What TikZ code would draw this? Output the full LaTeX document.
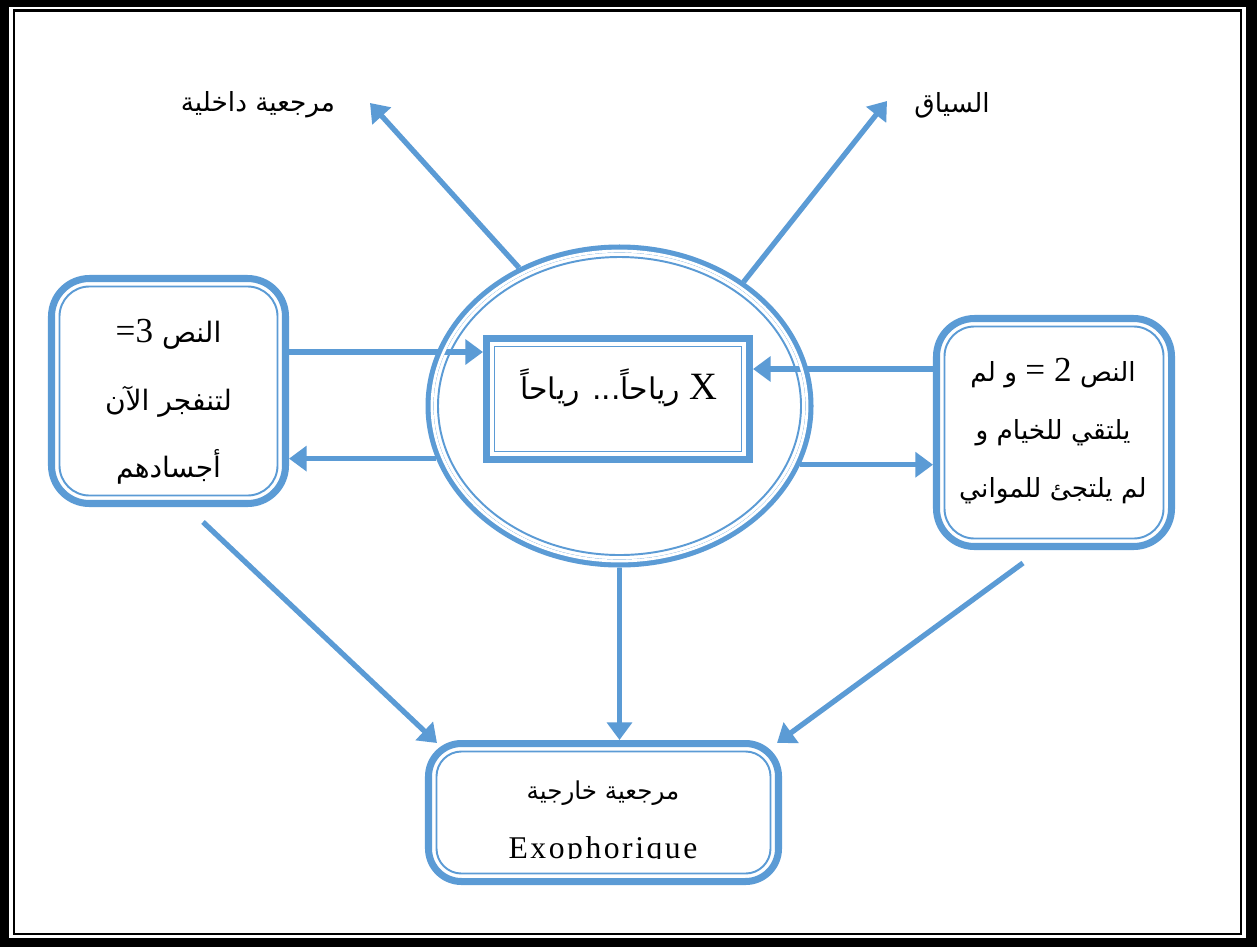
\documentclass[tikz,border=0pt]{standalone}
\usepackage{fontspec}
\setmainfont{Liberation Serif}
\newfontfamily\arabicfont[Script=Arabic]{DejaVu Sans}
\TeXXeTstate=1
\usetikzlibrary{arrows.meta,fit,shapes.geometric}
\definecolor{accentblue}{HTML}{5B9BD5}

\tikzset{
  heavy/.style={draw=accentblue, line width=4pt},
  fine/.style={draw=accentblue, line width=1.1pt},
  gapline/.style={draw=white, line width=1.6pt},
  arr/.style={draw=accentblue, line width=3pt, -{Triangle[length=10pt,width=14pt]}},
  artext/.style={font=\arabicfont\fontsize{15}{18}\selectfont, inner sep=0pt},
  boxtext/.style={align=center, inner sep=0pt},
}

\begin{document}
\begin{tikzpicture}[x=0.02cm,y=-0.02cm]
% page frame: heavy black band with a thin rule inside
\fill[black] (0,0) rectangle (1257,947);
\fill[white] (9.3,7.3) rectangle (1245.7,938.3);
\draw[line width=1.2pt] (14,10.5) rectangle (1241,934.3);

% left text box
\node[heavy, rounded corners=0.76cm, fit={(51.5,278.5) (285.5,503.5)}, inner sep=0pt] (lbox) {};
\draw[fine, rounded corners=0.6cm] ([shift={(11.5,11.5)}]lbox.north west) rectangle ([shift={(-11.5,-11.5)}]lbox.south east);

% right text box
\node[heavy, rounded corners=0.76cm, fit={(936.5,318.5) (1171.5,546.5)}, inner sep=0pt] (rbox) {};
\draw[fine, rounded corners=0.6cm] ([shift={(11.5,11.5)}]rbox.north west) rectangle ([shift={(-11.5,-11.5)}]rbox.south east);

% bottom box
\node[heavy, rounded corners=0.66cm, fit={(428.5,743.5) (778.5,881.5)}, inner sep=0pt] (bbox) {};
\draw[fine, rounded corners=0.5cm] ([shift={(11.5,11.5)}]bbox.north west) rectangle ([shift={(-11.5,-11.5)}]bbox.south east);

% central ellipse and the framed word inside it
\node[heavy, line width=4.6pt, ellipse, minimum width=7.6cm, minimum height=6.3cm, inner sep=0pt] (ell) at (619.5,406) {};
\node[heavy, fit={(486.5,338.5) (749.5,459.5)}, inner sep=0pt] (rect) {};
\draw[fine] ([shift={(11.5,11.5)}]rect.north west) rectangle ([shift={(-11.5,-11.5)}]rect.south east);

% levels of the horizontal connectors
\coordinate (h1) at (0,352);
\coordinate (h3) at (0,369);
% free ends of the other connectors
\coordinate (tipL) at (370,103);
\coordinate (tipR) at (887,101);
\coordinate (s8) at (203,522);
\coordinate (t8) at (437,743);
\coordinate (s9) at (1023,563);
\coordinate (t9) at (777,743);

\draw[arr] (lbox.east |- h1) -- (rect.west |- h1);
\draw[arr] (ell.196) -- (ell.196 -| lbox.east);
\draw[arr] (rbox.west |- h3) -- (rect.east |- h3);
\draw[arr] (ell.342) -- (ell.342 -| rbox.west);
\draw[arr] (ell.south) -- (ell.south |- bbox.north);
\draw[arr] (ell.126) -- (tipL);
\draw[arr] (ell.45) -- (tipR);
\draw[arr] (s8) -- (t8);
\draw[arr] (s9) -- (t9);

% inner ring of the ellipse, laid over the crossing connectors
\draw[gapline] (ell.center) ellipse [x radius=187.5, y radius=155];
\draw[fine] (ell.center) ellipse [x radius=181.5, y radius=149];

% labels
\node[artext] (lblL) at (258,105) {\beginR مرجعية داخلية\endR};
\node[artext] (lblR) at (952,105) {\beginR السياق\endR};

\node[boxtext, font=\arabicfont\fontsize{16}{38.5}\selectfont] (ltext) at (168.5,402)
  {\beginR النص {\rmfamily\fontsize{20}{20}\selectfont =3}\endR\\
   \beginR لتنفجر الآن\endR\\
   \beginR أجسادهم\endR};

\node[boxtext, font=\arabicfont\fontsize{15}{33}\selectfont] (rtext) at (1053,431)
  {\beginR النص {\rmfamily\fontsize{20}{20}\selectfont 2 =} و لم\endR\\
   \beginR يلتقي للخيام و\endR\\
   \beginR لم يلتجئ للمواني\endR};

\node[boxtext, font=\arabicfont\fontsize{17}{20}\selectfont] (ctext) at (619,388)
  {\beginR{\rmfamily\fontsize{22}{22}\selectfont X} رياحاً... رياحاً\endR};

\node[artext, font=\arabicfont\fontsize{14}{16}\selectfont] (btext) at (603,793) {\beginR مرجعية خارجية\endR};
\begin{scope}
  \clip (0,0) rectangle (1257,858);
  \node[inner sep=0pt, anchor=base, font=\fontsize{18}{18}\selectfont\addfontfeatures{LetterSpace=8}] (exo) at (603,858) {Exophorique};
\end{scope}
\end{tikzpicture}
\end{document}
